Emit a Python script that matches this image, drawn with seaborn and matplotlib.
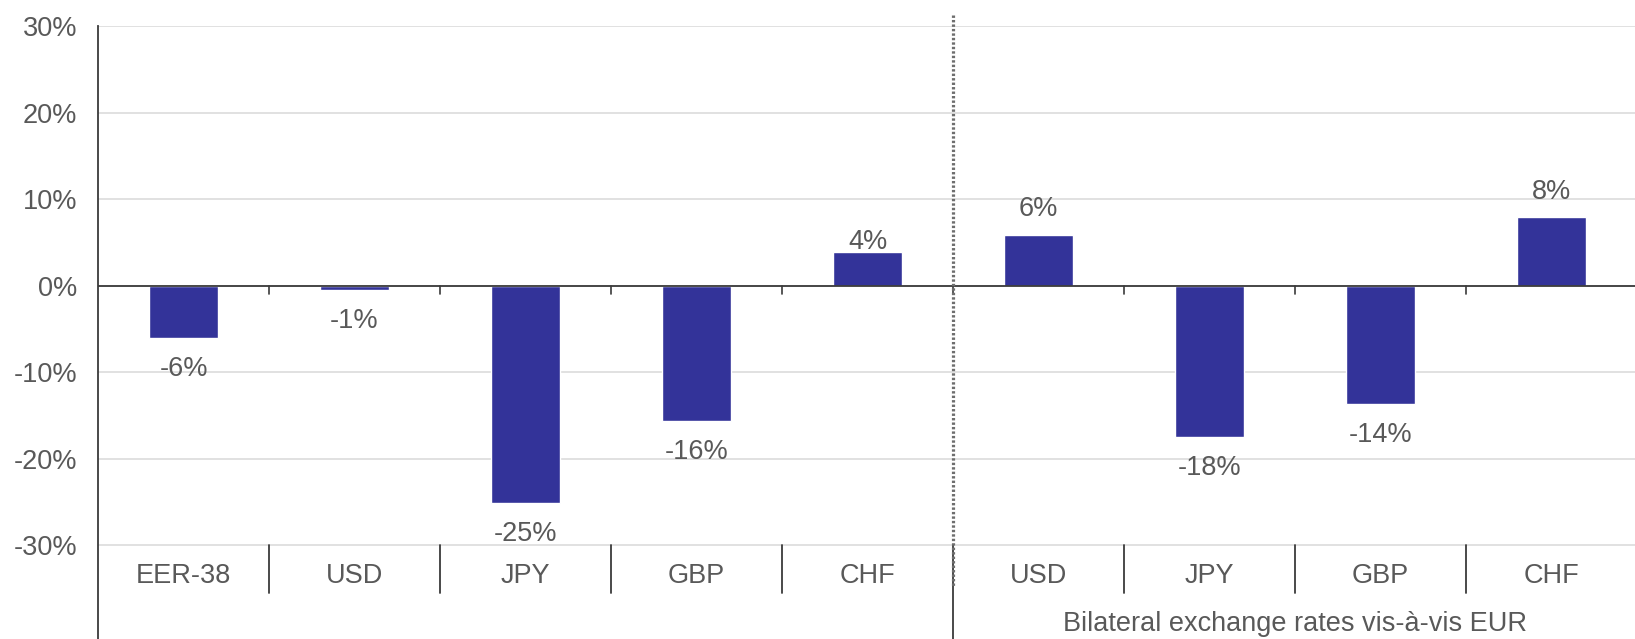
import pandas as pd
import matplotlib.pyplot as plt
import seaborn as sns

# data
currencies = ["EER-38", "USD", "JPY", "GBP", "CHF", "USD", "JPY", "GBP", "CHF"]
changes = [-6.0, -0.5, -25.1, -15.6, 3.9, 5.9, -17.5, -13.7, 7.9]
value_labels = ["-6%", "-1%", "-25%", "-16%", "4%", "6%", "-18%", "-14%", "8%"]
group_label = "Bilateral exchange rates vis-à-vis EUR"
yticks = [-30, -20, -10, 0, 10, 20, 30]

df = pd.DataFrame({"slot": range(len(currencies)), "change": changes})

sns.set_style("white")
plt.rcParams["font.family"] = ["Liberation Sans", "DejaVu Sans"]
txt = "#595959"
fs = 19.5

fig = plt.figure(figsize=(16.35, 6.39), dpi=100)
ax = fig.add_axes([98 / 1635, 0, 1539 / 1635, 613 / 639])

ax.set_ylim(-40.8, 30)
ax.set_xlim(-0.5, 8.5)
ax.set_yticks(yticks)
ax.yaxis.grid(True, color="#d9d9d9", lw=1.1)
ax.set_axisbelow(True)

sns.barplot(data=df, x="slot", y="change", color="#333399", saturation=1,
            width=0.4, ax=ax, zorder=3)

ax.axhline(0, color="#3a3a3a", lw=1.3, zorder=4)

# value labels: a bit further away below negative bars; the 4% label sits lower
for k, (bar, lab) in enumerate(zip(ax.containers[0], value_labels)):
    h = bar.get_height()
    xc = bar.get_x() + bar.get_width() / 2
    if h < 0:
        off, va = -13, "top"
    else:
        off, va = (-2 if k == 4 else 9), "bottom"
    ax.annotate(lab, (xc, h), xytext=(0, off), textcoords="offset points",
                ha="center", va=va, fontsize=fs, color=txt)

ax.set_yticklabels([f"{t}%" for t in yticks], fontsize=fs, color=txt)
ax.tick_params(axis="y", length=0, pad=15)
ax.set_xticks([])
ax.set_xlabel("")
ax.set_ylabel("")

for s in ["top", "right", "bottom"]:
    ax.spines[s].set_visible(False)
ax.spines["left"].set_color("#3a3a3a")
ax.spines["left"].set_linewidth(1.3)

n = len(currencies)
# small ticks on the zero line and separators in the label area
for i in range(n - 1):
    xb = i + 0.5
    ax.plot([xb, xb], [0, -0.9], color="#3a3a3a", lw=1.2, zorder=4)
    if i == 4:
        ax.plot([xb, xb], [-30, -40.8], color="#3a3a3a", lw=1.3, clip_on=False)
        ax.plot([xb, xb], [31.3, -34.7], color="#6e6e6e", lw=2.3,
                linestyle=(0, (0.75, 0.65)), clip_on=False, zorder=5)
    else:
        ax.plot([xb, xb], [-30, -35.5], color="#3a3a3a", lw=1.3)

for i, cur in enumerate(currencies):
    ax.text(i, -33.5, cur, ha="center", va="center", fontsize=fs, color=txt)

ax.text(6.5, -39.1, group_label, ha="center", va="center", fontsize=fs, color=txt)

fig.savefig("out.png", dpi=100)
